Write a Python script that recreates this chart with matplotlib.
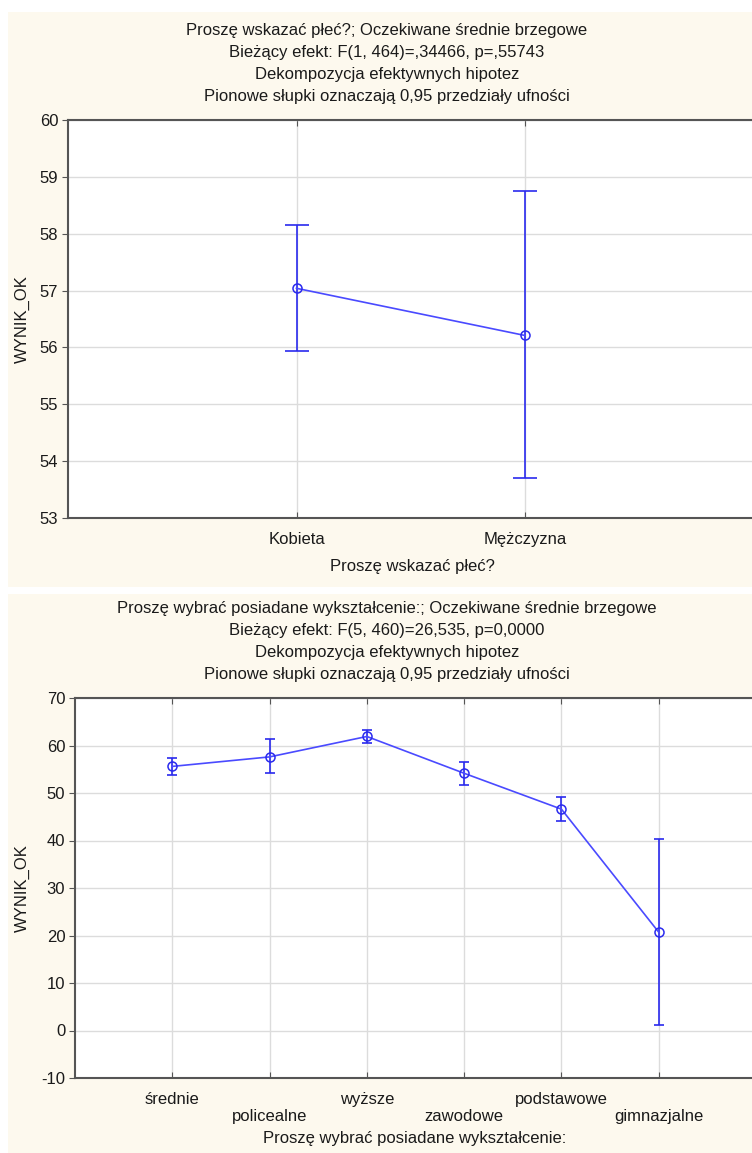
import matplotlib
matplotlib.use("Agg")
import matplotlib.pyplot as plt
from matplotlib.patches import Rectangle

plt.rcParams['font.family'] = ['Liberation Sans', 'DejaVu Sans']
plt.rcParams['axes.unicode_minus'] = False

# ---- data: panel 1 (gender) ----
sex_labels = ["Kobieta", "Mężczyzna"]
sex_mean = [57.04, 56.21]
sex_low = [55.93, 53.71]
sex_high = [58.16, 58.75]
sex_yticks = [53, 54, 55, 56, 57, 58, 59, 60]

# ---- data: panel 2 (education) ----
edu_labels = ["średnie", "policealne", "wyższe", "zawodowe", "podstawowe", "gimnazjalne"]
edu_mean = [55.6, 57.6, 61.9, 54.15, 46.6, 20.7]
edu_low = [53.8, 54.3, 60.6, 51.7, 44.2, 1.2]
edu_high = [57.4, 61.4, 63.3, 56.5, 49.2, 40.4]
edu_yticks = [-10, 0, 10, 20, 30, 40, 50, 60, 70]

title1 = ["Proszę wskazać płeć?; Oczekiwane średnie brzegowe",
          "Bieżący efekt: F(1, 464)=,34466, p=,55743",
          "Dekompozycja efektywnych hipotez",
          "Pionowe słupki oznaczają 0,95 przedziały ufności"]
title2 = ["Proszę wybrać posiadane wykształcenie:; Oczekiwane średnie brzegowe",
          "Bieżący efekt: F(5, 460)=26,535, p=0,0000",
          "Dekompozycja efektywnych hipotez",
          "Pionowe słupki oznaczają 0,95 przedziały ufności"]
xlabel1 = "Proszę wskazać płeć?"
xlabel2 = "Proszę wybrać posiadane wykształcenie:"
ylabel = "WYNIK_OK"

W, H = 752, 1153
fig = plt.figure(figsize=(W / 100, H / 100), dpi=100)
fig.patch.set_facecolor("white")

CREAM = "#fdf9ee"
LINE = "#4a4aff"
EBAR = "#2a2aee"
SPINE = "#555555"
GRID = "#dcdcdc"
TXT = "#1a1a1a"
FS = 12


def fx(px):
    return px / W


def fy(py):
    return 1 - py / H


# panel backgrounds
fig.patches.append(Rectangle((fx(8), fy(587)), fx(W - 8), (587 - 12) / H,
                             transform=fig.transFigure, facecolor=CREAM,
                             edgecolor="none", zorder=-5))
fig.patches.append(Rectangle((fx(8), fy(1153)), fx(W - 8), (1153 - 594) / H,
                             transform=fig.transFigure, facecolor=CREAM,
                             edgecolor="none", zorder=-5))


def style_axes(ax):
    ax.set_facecolor("white")
    for s in ax.spines.values():
        s.set_color(SPINE)
        s.set_linewidth(1.5)
    ax.grid(True, color=GRID, linewidth=1.0)
    ax.set_axisbelow(True)
    ax.tick_params(axis="x", direction="in", top=True, bottom=True, length=4,
                   color=SPINE, pad=10, labelsize=FS, labelcolor=TXT)
    ax.tick_params(axis="y", direction="out", left=True, length=4,
                   color=SPINE, pad=3, labelsize=FS, labelcolor=TXT)


# ---- panel 1 ----
ax1 = fig.add_axes([fx(68), fy(518), fx(W - 68) + 0.002, (518 - 120) / H])
style_axes(ax1)
x1 = list(range(1, len(sex_labels) + 1))
err1_lo = [m - l for m, l in zip(sex_mean, sex_low)]
err1_hi = [h - m for m, h in zip(sex_mean, sex_high)]
ax1.errorbar(x1, sex_mean, yerr=[err1_lo, err1_hi], fmt="none", ecolor=EBAR,
             elinewidth=1.2, capsize=8.5, capthick=1.2, zorder=3)
ax1.plot(x1, sex_mean, color=LINE, linewidth=1.2, marker="o", markersize=6.5,
         markerfacecolor="none", markeredgecolor=EBAR, markeredgewidth=1.1,
         zorder=4)
ax1.set_xlim(0, len(sex_labels) + 1)
ax1.set_ylim(sex_yticks[0], sex_yticks[-1])
ax1.set_yticks(sex_yticks)
ax1.set_xticks(x1)
ax1.set_xticklabels(sex_labels)

# ---- panel 2 ----
ax2 = fig.add_axes([fx(75), fy(1078), fx(756 - 75), (1078 - 698) / H])
style_axes(ax2)
x2 = list(range(1, len(edu_labels) + 1))
err2_lo = [m - l for m, l in zip(edu_mean, edu_low)]
err2_hi = [h - m for m, h in zip(edu_mean, edu_high)]
ax2.errorbar(x2, edu_mean, yerr=[err2_lo, err2_hi], fmt="none", ecolor=EBAR,
             elinewidth=1.2, capsize=3.8, capthick=1.2, zorder=3)
ax2.plot(x2, edu_mean, color=LINE, linewidth=1.2, marker="o", markersize=6.5,
         markerfacecolor="none", markeredgecolor=EBAR, markeredgewidth=1.1,
         zorder=4)
ax2.set_xlim(0, len(edu_labels) + 1)
ax2.set_ylim(edu_yticks[0], edu_yticks[-1])
ax2.set_yticks(edu_yticks)
ax2.set_xticks(x2)
ax2.set_xticklabels([("\n" + t) if i % 2 == 1 else t
                     for i, t in enumerate(edu_labels)], linespacing=1.15)

# ---- texts ----
for i, t in enumerate(title1):
    fig.text(fx(387), fy(31 + i * 22), t, ha="center", va="center",
             fontsize=FS, color=TXT)
for i, t in enumerate(title2):
    fig.text(fx(387), fy(608 + i * 22), t, ha="center", va="center",
             fontsize=FS, color=TXT)

fig.text(fx(412), fy(566), xlabel1, ha="center", va="center", fontsize=FS, color=TXT)
fig.text(fx(415), fy(1138), xlabel2, ha="center", va="center", fontsize=FS, color=TXT)
fig.text(fx(22), fy(319), ylabel, ha="center", va="center", rotation=90,
         fontsize=FS, color=TXT)
fig.text(fx(22), fy(888), ylabel, ha="center", va="center", rotation=90,
         fontsize=FS, color=TXT)

fig.savefig("out.png", dpi=100, facecolor=fig.get_facecolor())
